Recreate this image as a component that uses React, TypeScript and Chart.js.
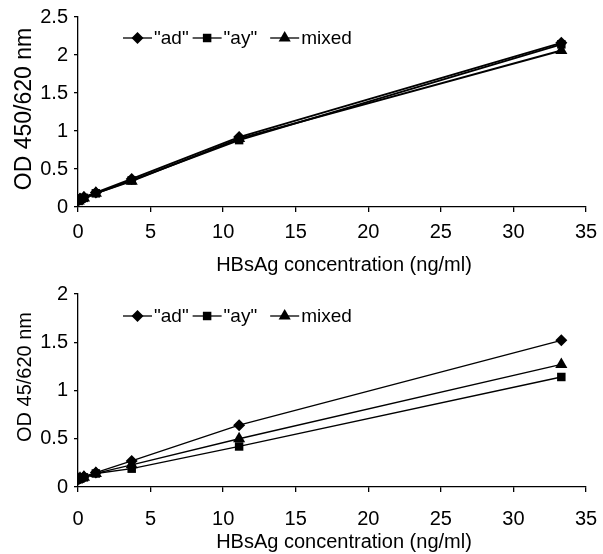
import { useEffect, useRef } from "react";
import { Chart, registerables } from "chart.js";

Chart.register(...registerables);

// ---- data ----
const concentrations = [0.046, 0.137, 0.41, 1.23, 3.7, 11.1, 33.3];
const seriesNames = ['"ad"', '"ay"', "mixed"];

const topAd = [0.09, 0.11, 0.13, 0.19, 0.37, 0.92, 2.16];
const topAy = [0.08, 0.1, 0.12, 0.18, 0.35, 0.88, 2.14];
const topMixed = [0.08, 0.1, 0.12, 0.18, 0.34, 0.9, 2.06];

const bottomAd = [0.08, 0.09, 0.11, 0.15, 0.27, 0.64, 1.52];
const bottomAy = [0.08, 0.09, 0.1, 0.14, 0.19, 0.42, 1.14];
const bottomMixed = [0.08, 0.09, 0.1, 0.14, 0.23, 0.5, 1.27];

const xTickValues = [0, 5, 10, 15, 20, 25, 30, 35];
const topYTickValues = [0, 0.5, 1, 1.5, 2, 2.5];
const bottomYTickValues = [0, 0.5, 1, 1.5, 2];

const xTitle = "HBsAg concentration (ng/ml)";
const topYTitle = "OD 450/620 nm";
const bottomYTitle = "OD 45/620 nm";

const FONT = "'Liberation Sans', Arial, sans-serif";
const markerStyles = ["rectRot", "rect", "triangle"];
const markerRadii = [6, 6, 7];

function drawMarker(ctx: CanvasRenderingContext2D, style: string, r: number, x: number, y: number) {
  ctx.beginPath();
  if (style === "rectRot") {
    ctx.moveTo(x, y - r);
    ctx.lineTo(x + r, y);
    ctx.lineTo(x, y + r);
    ctx.lineTo(x - r, y);
  } else if (style === "rect") {
    const s = r * Math.SQRT1_2;
    ctx.rect(x - s, y - s, 2 * s, 2 * s);
  } else {
    for (let k = 0; k < 3; k++) {
      const a = (k * 2 * Math.PI) / 3;
      const px = x + Math.sin(a) * r;
      const py = y - Math.cos(a) * r;
      if (k === 0) ctx.moveTo(px, py);
      else ctx.lineTo(px, py);
    }
  }
  ctx.closePath();
  ctx.fill();
}

// legend drawn as line + marker + label, like the spreadsheet original
const lineLegend = {
  id: "lineLegend",
  afterDraw(chart: any, _args: any, opts: any) {
    const ctx: CanvasRenderingContext2D = chart.ctx;
    ctx.save();
    ctx.font = `${opts.fontSize}px ${FONT}`;
    ctx.textBaseline = "middle";
    ctx.textAlign = "left";
    ctx.fillStyle = "#000";
    ctx.strokeStyle = "#000";
    let cx = opts.x;
    const y = opts.y;
    chart.data.datasets.forEach((ds: any, i: number) => {
      ctx.lineWidth = opts.lineWidth;
      ctx.beginPath();
      ctx.moveTo(cx, y);
      ctx.lineTo(cx + opts.lineLen, y);
      ctx.stroke();
      drawMarker(ctx, ds.pointStyle, ds.pointRadius, cx + opts.lineLen / 2, y);
      const tx = cx + opts.lineLen + opts.textGap;
      ctx.fillText(ds.label, tx, y + 1);
      cx = tx + ctx.measureText(ds.label).width + opts.itemGaps[i];
    });
    ctx.restore();
  },
};

// axis titles placed where the original puts them
const axisTitles = {
  id: "axisTitles",
  afterDraw(chart: any, _args: any, o: any) {
    const ctx: CanvasRenderingContext2D = chart.ctx;
    ctx.save();
    ctx.fillStyle = "#000";
    ctx.textAlign = "center";
    ctx.textBaseline = "middle";
    ctx.font = `${o.xSize}px ${FONT}`;
    ctx.fillText(o.xText, o.xCenter, o.xY);
    ctx.translate(o.yX, o.yCenter);
    ctx.rotate(-Math.PI / 2);
    ctx.font = `${o.ySize}px ${FONT}`;
    ctx.fillText(o.yText, 0, 0);
    ctx.restore();
  },
};

interface PanelProps {
  series: number[][];
  yTicks: number[];
  yTitle: string;
  yTitleSize: number;
  yTitleCenter: number;
  lineWidth: number;
  tickPadX: number;
  xAxisHeight: number;
  legendY: number;
  top: number;
}

function Panel(p: PanelProps) {
  const ref = useRef<HTMLCanvasElement | null>(null);
  useEffect(() => {
    if (!ref.current) return;
    const yMax = p.yTicks[p.yTicks.length - 1];
    const chart = new Chart(ref.current, {
      type: "line",
      data: {
        datasets: p.series.map((vals, i) => ({
          label: seriesNames[i],
          data: vals.map((v, j) => ({ x: concentrations[j], y: v })),
          borderColor: "#000",
          backgroundColor: "#000",
          borderWidth: p.lineWidth,
          pointStyle: markerStyles[i] as any,
          pointRadius: markerRadii[i],
          pointBorderWidth: 0,
          pointBackgroundColor: "#000",
          tension: 0,
          fill: false,
        })),
      },
      options: {
        animation: false,
        responsive: false,
        events: [],
        layout: { padding: { top: 17, right: 17, left: 0, bottom: 0 } },
        plugins: {
          legend: { display: false },
          tooltip: { enabled: false },
          lineLegend: { x: 123, y: p.legendY, lineLen: 29, textGap: 2, itemGaps: [4, 13, 0], fontSize: 19, lineWidth: 1.3 },
          axisTitles: {
            xText: xTitle,
            xSize: 20,
            xCenter: 344,
            xY: 265,
            yText: p.yTitle,
            ySize: p.yTitleSize,
            yX: 25,
            yCenter: p.yTitleCenter,
          },
        } as any,
        scales: {
          x: {
            type: "linear",
            min: 0,
            max: 35,
            afterBuildTicks: (s: any) => {
              s.ticks = xTickValues.map((v) => ({ value: v }));
            },
            ticks: {
              color: "#000",
              font: { family: FONT, size: 20 },
              padding: p.tickPadX,
              maxRotation: 0,
              callback: (v: any) => String(v),
            },
            grid: { drawOnChartArea: false, drawTicks: true, tickLength: 5, color: "#000", lineWidth: 1.3 },
            border: { display: true, color: "#000", width: 1.3 },
            afterFit: (s: any) => {
              s.height = p.xAxisHeight;
              s.paddingLeft = 6;
              s.paddingRight = 12;
            },
          },
          y: {
            type: "linear",
            min: 0,
            max: yMax,
            afterBuildTicks: (s: any) => {
              s.ticks = p.yTicks.map((v) => ({ value: v }));
            },
            ticks: {
              color: "#000",
              font: { family: FONT, size: 20 },
              padding: 6,
              callback: (v: any) => String(v),
            },
            grid: { drawOnChartArea: false, drawTicks: true, tickLength: 4, color: "#000", lineWidth: 1.3 },
            border: { display: true, color: "#000", width: 1.3 },
            afterFit: (s: any) => {
              s.width = 78;
              s.paddingTop = 12;
              s.paddingBottom = 12;
            },
          },
        },
      },
      plugins: [lineLegend, axisTitles],
    });
    return () => chart.destroy();
  }, []);
  return (
    <canvas
      ref={ref}
      width={603}
      height={277}
      style={{ position: "absolute", left: 0, top: p.top, width: 603, height: 277 }}
    />
  );
}

export default function App() {
  return (
    <div style={{ position: "absolute", left: 0, top: 0, width: 603, height: 554, background: "#fff" }}>
      <Panel
        series={[topAd, topAy, topMixed]}
        yTicks={topYTickValues}
        yTitle={topYTitle}
        yTitleSize={23}
        yTitleCenter={109}
        lineWidth={2}
        tickPadX={8}
        xAxisHeight={70}
        legendY={38}
        top={0}
      />
      <Panel
        series={[bottomAd, bottomAy, bottomMixed]}
        yTicks={bottomYTickValues}
        yTitle={bottomYTitle}
        yTitleSize={20}
        yTitleCenter={100}
        lineWidth={1.3}
        tickPadX={15}
        xAxisHeight={67}
        legendY={39}
        top={277}
      />
    </div>
  );
}
